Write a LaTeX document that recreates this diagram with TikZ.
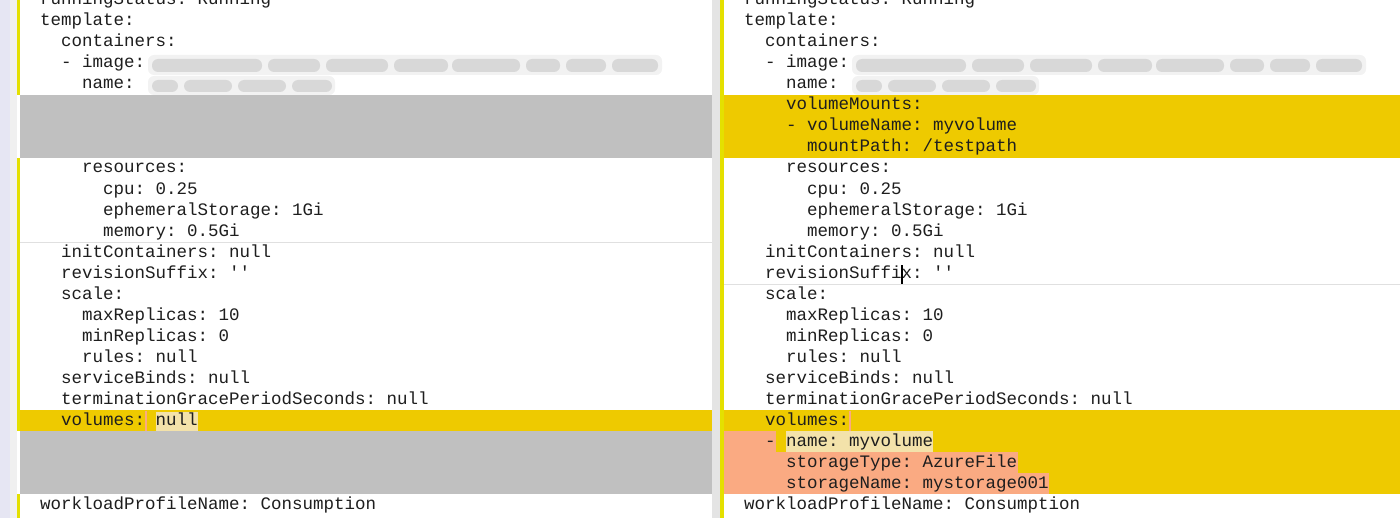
\documentclass[tikz,border=0pt]{standalone}
\usepackage{fontspec}
\setmonofont{Liberation Mono}
\usetikzlibrary{positioning}
\definecolor{lavender}{RGB}{230,230,243}
\definecolor{stripgray}{RGB}{240,240,240}
\definecolor{markyellow}{RGB}{228,224,0}
\definecolor{bandyellow}{RGB}{238,202,0}
\definecolor{blockgray}{RGB}{192,192,192}
\definecolor{salmon}{RGB}{250,170,130}
\definecolor{cream}{RGB}{243,226,170}
\definecolor{codeink}{RGB}{30,30,30}
\tikzset{
	every node/.style={anchor=base west,inner sep=0pt,outer sep=0pt},
	code/.style={text=codeink,font=\ttfamily\fontsize{8.75pt}{10.5pt}\selectfont},
	blur/.style={fill=gray,opacity=0.10,rounded corners=3pt},
}

\begin{document}
\begin{tikzpicture}[x=0.5pt,y=-0.5pt]
	\useasboundingbox (0,0) rectangle (1400,518);
	\clip (0,0) rectangle (1400,518);
	\fill [white] (0,0) rectangle (1400,518);

	% left gutter.....................
	\fill [lavender] (0,0) rectangle (10,518);
	\fill [stripgray] (10,0) rectangle (17,518);
	\fill [markyellow] (17,0) rectangle (20,95);
	\fill [markyellow] (17,158) rectangle (20,431);
	\fill [markyellow] (17,494) rectangle (20,518);

	% middle divider...................
	\fill [stripgray!95!black] (712,0) rectangle (720,518);
	\fill [markyellow] (720,0) rectangle (724,518);

	% gray blocks (left)..................
	\fill [blockgray] (20,95) rectangle (712,158);
	\fill [blockgray] (20,431) rectangle (712,494);

	% changed bands.......................
	\fill [bandyellow] (20,410) rectangle (712,431);
	\fill [bandyellow] (724,95) rectangle (1400,158);
	\fill [bandyellow] (724,410) rectangle (1400,494);
	\fill [salmon] (724,431) rectangle (776,452);
	\fill [salmon] (724,452) rectangle (1018,473);
	\fill [salmon] (724,473) rectangle (1049,494);
	\fill [cream] (786,431) rectangle (933,452);
	\fill [cream] (156,412) rectangle (198,431);
	\fill [salmon] (145,411) rectangle (147,431);
	\fill [salmon] (849,411) rectangle (851,431);

	% row separators......................
	\draw [black!12, line width=0.5pt] (20,242) -- (712,242);
	\draw [black!12, line width=0.5pt] (724,284) -- (1400,284);

	% blurred values......................
	\foreach \dx in {0,704} {
		\fill [blur] (148+\dx,55) rectangle (662+\dx,75);
		\fill [blur] (148+\dx,76) rectangle (335+\dx,95);
		\foreach \a/\b in {152/262, 268/320, 326/388, 394/448, 452/520, 526/560, 566/606, 612/658} {
			\fill [blur, opacity=0.22] (\a+\dx,59) rectangle (\b+\dx,72);
		}
		\foreach \a/\b in {152/178, 184/232, 238/286, 292/332} {
			\fill [blur, opacity=0.22] (\a+\dx,80) rectangle (\b+\dx,92);
		}
	}

	% left pane text.......................
	\node [code] (lRun) at (40,5) {runningStatus: Running};
	\node [code] (lTemplate) at (40,26) {template:};
	\node [code] (lContainers) at (61,47) {containers:};
	\node [code] (lImage) at (61,68) {- image:};
	\node [code] (lName) at (82,89) {name:};
	\node [code] (lResources) at (82,173) {resources:};
	\node [code] (lCpu) at (103,194) {cpu: 0.25};
	\node [code] (lEph) at (103,215) {ephemeralStorage: 1Gi};
	\node [code] (lMem) at (103,236) {memory: 0.5Gi};
	\node [code] (lInit) at (61,257) {initContainers: null};
	\node [code] (lRev) at (61,278) {revisionSuffix: ''};
	\node [code] (lScale) at (61,299) {scale:};
	\node [code] (lMax) at (82,320) {maxReplicas: 10};
	\node [code] (lMin) at (82,341) {minReplicas: 0};
	\node [code] (lRules) at (82,362) {rules: null};
	\node [code] (lBinds) at (61,383) {serviceBinds: null};
	\node [code] (lTerm) at (61,404) {terminationGracePeriodSeconds: null};
	\node [code] (lVolumes) at (61,425) {volumes: null};
	\node [code] (lWorkload) at (40,509) {workloadProfileName: Consumption};

	% right pane text......................
	\node [code] (rRun) at (744,5) {runningStatus: Running};
	\node [code] (rTemplate) at (744,26) {template:};
	\node [code] (rContainers) at (765,47) {containers:};
	\node [code] (rImage) at (765,68) {- image:};
	\node [code] (rName) at (786,89) {name:};
	\node [code] (rMounts) at (786,110) {volumeMounts:};
	\node [code] (rVolName) at (786,131) {- volumeName: myvolume};
	\node [code] (rPath) at (807,152) {mountPath: /testpath};
	\node [code] (rResources) at (786,173) {resources:};
	\node [code] (rCpu) at (807,194) {cpu: 0.25};
	\node [code] (rEph) at (807,215) {ephemeralStorage: 1Gi};
	\node [code] (rMem) at (807,236) {memory: 0.5Gi};
	\node [code] (rInit) at (765,257) {initContainers: null};
	\node [code] (rRev) at (765,278) {revisionSuffix: ''};
	\node [code] (rScale) at (765,299) {scale:};
	\node [code] (rMax) at (786,320) {maxReplicas: 10};
	\node [code] (rMin) at (786,341) {minReplicas: 0};
	\node [code] (rRules) at (786,362) {rules: null};
	\node [code] (rBinds) at (765,383) {serviceBinds: null};
	\node [code] (rTerm) at (765,404) {terminationGracePeriodSeconds: null};
	\node [code] (rVolumes) at (765,425) {volumes:};
	\node [code] (rVolItem) at (765,446) {- name: myvolume};
	\node [code] (rType) at (786,467) {storageType: AzureFile};
	\node [code] (rStore) at (786,488) {storageName: mystorage001};
	\node [code] (rWorkload) at (744,509) {workloadProfileName: Consumption};

	% text cursor..........................
	\draw [black, line width=0.6pt] (902,265) -- (902,284);
\end{tikzpicture}
\end{document}
